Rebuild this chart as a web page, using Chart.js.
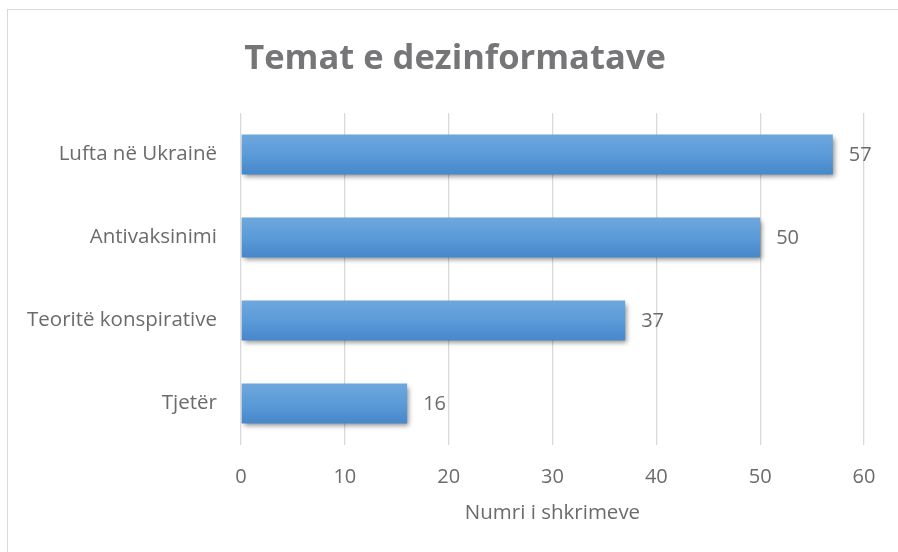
<!DOCTYPE html>
<html>
<head>
<meta charset="utf-8">
<script src="https://cdn.jsdelivr.net/npm/chart.js@4.4.1/dist/chart.umd.min.js"></script>
<style>
  html, body { margin: 0; padding: 0; background: #fff; overflow: hidden; }
  #wrap { position: relative; width: 898px; height: 552px; }
  #frame { position: absolute; left: 7px; top: 9px; width: 1000px; height: 1000px; border: 1px solid #d9d9d9; }
  #chart { position: absolute; left: 0; top: 0; }
</style>
</head>
<body>
<div id="wrap">
  <div id="frame"></div>
  <canvas id="chart" width="898" height="552"></canvas>
</div>
<script>
// Datos del gráfico
const categories = ["Lufta në Ukrainë", "Antivaksinimi", "Teoritë konspirative", "Tjetër"];
const values = [57, 50, 37, 16];
const chartTitle = "Temat e dezinformatave";
const axisTitle = "Numri i shkrimeve";

const FONT = "'Open Sans', sans-serif";
const TEXT = "#6b6b6b";

// Sombra y degradado de las barras
const barStyle = {
  id: "barStyle",
  afterLayout(chart) {
    // el título en Excel está centrado en todo el gráfico
    chart.titleBlock.left += 46;
  },
  beforeDatasetsDraw(chart) {
    const ctx = chart.ctx;
    const meta = chart.getDatasetMeta(0);
    meta.data.forEach((bar) => {
      const top = bar.y - bar.height / 2;
      const g = ctx.createLinearGradient(0, top, 0, top + bar.height);
      g.addColorStop(0, "#6ea7dd");
      g.addColorStop(0.5, "#5b9bd8");
      g.addColorStop(1, "#4787cb");
      bar.options = Object.assign({}, bar.options, { backgroundColor: g });
    });
    ctx.save();
    ctx.shadowColor = "rgba(0,0,0,0.45)";
    ctx.shadowBlur = 5;
    ctx.shadowOffsetX = 2;
    ctx.shadowOffsetY = 3;
  },
  afterDatasetsDraw(chart) {
    chart.ctx.restore();
  },
};

// Etiquetas de valores al final de cada barra
const valueLabels = {
  id: "valueLabels",
  afterDatasetsDraw(chart) {
    const ctx = chart.ctx;
    const meta = chart.getDatasetMeta(0);
    ctx.save();
    ctx.font = "20px " + FONT;
    ctx.fillStyle = TEXT;
    ctx.textAlign = "left";
    ctx.textBaseline = "middle";
    meta.data.forEach((bar, i) => {
      ctx.fillText(values[i], bar.x + 16, bar.y + 1);
    });
    ctx.restore();
  },
};

const ctx = document.getElementById("chart").getContext("2d");
new Chart(ctx, {
  type: "bar",
  data: {
    labels: categories,
    datasets: [
      {
        data: values,
        backgroundColor: "#5b9bd5",
        borderWidth: 0,
        barPercentage: 0.96,
        categoryPercentage: 0.5,
      },
    ],
  },
  options: {
    indexAxis: "y",
    responsive: false,
    animation: false,
    layout: { padding: { left: 0, right: 34, top: 0, bottom: 0 } },
    plugins: {
      legend: { display: false },
      tooltip: { enabled: false },
      title: {
        display: true,
        text: chartTitle,
        color: "#767679",
        font: { family: FONT, size: 34.5, weight: "bold", lineHeight: 1.2 },
        padding: { top: 38, bottom: 33.6 },
      },
    },
    scales: {
      x: {
        min: 0,
        max: 60,
        ticks: { stepSize: 10, color: TEXT, padding: 20, font: { family: FONT, size: 20 } },
        grid: { color: "#d9d9d9", lineWidth: 1.3, drawTicks: false },
        border: { display: false },
        title: {
          display: true,
          text: axisTitle,
          color: TEXT,
          font: { family: FONT, size: 20.5 },
          padding: { top: 27, bottom: 27 },
        },
        afterFit(scale) {
          scale.height = 107;
        },
      },
      y: {
        ticks: { color: TEXT, padding: 24, font: { family: FONT, size: 20.5 } },
        grid: { display: false, drawTicks: false },
        border: { display: false },
        afterFit(scale) {
          scale.width = 241;
        },
      },
    },
  },
  plugins: [barStyle, valueLabels],
});
</script>
</body>
</html>
